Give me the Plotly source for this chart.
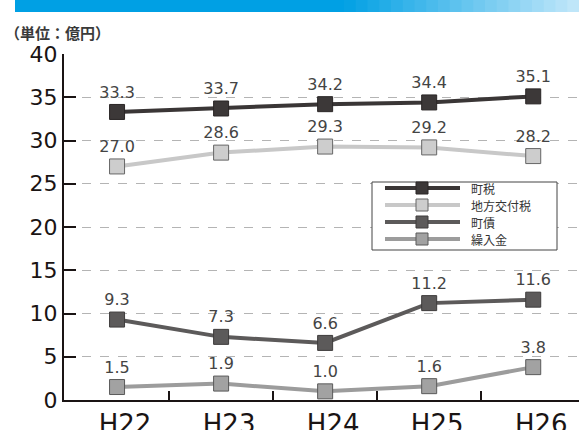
import plotly.graph_objects as go

categories = ["H22", "H23", "H24", "H25", "H26"]
town_tax = [33.3, 33.7, 34.2, 34.4, 35.1]
local_alloc = [27.0, 28.6, 29.3, 29.2, 28.2]
town_bond = [9.3, 7.3, 6.6, 11.2, 11.6]
transfer = [1.5, 1.9, 1.0, 1.6, 3.8]
series_names = ["町税", "地方交付税", "町債", "繰入金"]
y_ticks = [0, 5, 10, 15, 20, 25, 30, 35, 40]

xs = list(range(len(categories)))
FONT = "DejaVu Sans, Liberation Sans, Noto Sans CJK JP"
CJK = "Noto Sans CJK JP, Liberation Sans"

W, H = 579, 430
L, R, T, B = 64, 0, 54, 30
PW, PH = W - L - R, H - T - B


def px(x):
    return (x - L) / PW


def py(y):
    return (H - B - y) / PH


styles = [
    dict(line="#3a3636", fill="#3c3838", edge="#2a2626"),
    dict(line="#c8c8c8", fill="#cdcdcd", edge="#666666"),
    dict(line="#5c5a5a", fill="#5c5a5a", edge="#3e3c3c"),
    dict(line="#9c9c9c", fill="#a2a2a2", edge="#5a5a5a"),
]

fig = go.Figure()
for name, vals, st in zip(series_names, [town_tax, local_alloc, town_bond, transfer], styles):
    fig.add_trace(go.Scatter(
        x=xs, y=vals, name=name, mode="lines+markers+text",
        text=[f"{v:.1f}" for v in vals], textposition="top center",
        textfont=dict(size=16, color="#444444", family=FONT),
        line=dict(color=st["line"], width=4),
        marker=dict(symbol="square", size=15, color=st["fill"], line=dict(color=st["edge"], width=1)),
        cliponaxis=False, showlegend=False, hoverinfo="skip",
    ))

shapes = []
annotations = []

# banner gradient
n = 48
x0, x1 = 15, 579
c0 = (0, 160, 228)
c1 = (196, 232, 250)
for i in range(n):
    t = (i + 0.5) / n
    tt = max(0.0, (t - 0.58) / 0.42)
    col = tuple(int(c0[k] + (c1[k] - c0[k]) * tt) for k in range(3))
    xa = x0 + (x1 - x0) * i / n
    xb = x0 + (x1 - x0) * (i + 1) / n + 1
    shapes.append(dict(type="rect", xref="paper", yref="paper",
                       x0=px(xa), x1=px(xb), y0=py(12), y1=py(-2),
                       fillcolor=f"rgb{col}", line=dict(width=0), layer="above"))

# manual legend box
shapes.append(dict(type="rect", xref="paper", yref="paper",
                   x0=px(372), x1=px(557), y0=py(250), y1=py(182),
                   fillcolor="white", line=dict(color="#444444", width=1), layer="above"))
rows = [188, 205, 222, 239]
for name, st, ry in zip(series_names, styles, rows):
    shapes.append(dict(type="line", xref="paper", yref="paper",
                       x0=px(385), x1=px(460), y0=py(ry), y1=py(ry),
                       line=dict(color=st["line"], width=4), layer="above"))
    shapes.append(dict(type="rect", xref="paper", yref="paper",
                       x0=px(416), x1=px(428), y0=py(ry + 6), y1=py(ry - 6),
                       fillcolor=st["fill"], line=dict(color=st["edge"], width=1), layer="above"))
    annotations.append(dict(text=name, xref="paper", yref="paper", x=px(469), y=py(ry),
                            xanchor="left", yanchor="middle", showarrow=False,
                            font=dict(size=12, family=CJK, color="#333333")))

annotations.append(dict(text="<b>（単位：億円）</b>", xref="paper", yref="paper",
                        x=px(3), y=py(32), xanchor="left", yanchor="middle",
                        showarrow=False, font=dict(size=15, family=CJK, color="#3a3a3a")))

fig.update_layout(
    width=W, height=H,
    margin=dict(l=L, r=R, t=T, b=B, autoexpand=False),
    paper_bgcolor="white", plot_bgcolor="white",
    shapes=shapes, annotations=annotations,
    showlegend=False, hovermode=False,
    xaxis=dict(range=[-0.51, 4.44], tickvals=xs, ticktext=categories,
               ticks="", showgrid=False, zeroline=False, automargin=False,
               showline=True, linecolor="#1a1414", linewidth=2,
               ticklabelshift=8,
               tickfont=dict(size=26, family=FONT, color="#1a1414"),
               minor=dict(tickvals=[0.5, 1.5, 2.5, 3.5], ticks="inside", ticklen=9,
                          tickwidth=2, tickcolor="#1a1414", showgrid=False)),
    yaxis=dict(range=[0, 40], tickvals=y_ticks, ticks="inside", ticklen=12,
               tickwidth=2, tickcolor="#1a1414", automargin=False,
               showline=True, linecolor="#1a1414", linewidth=2,
               showgrid=True, gridcolor="#b4b4b4", griddash="dash", gridwidth=1,
               zeroline=False,
               tickfont=dict(size=22, family=FONT, color="#1a1414")),
)
fig.write_html("out.html", config={"displayModeBar": False, "staticPlot": True},
               post_script="document.body.style.margin='0';document.body.style.overflow='hidden';")
